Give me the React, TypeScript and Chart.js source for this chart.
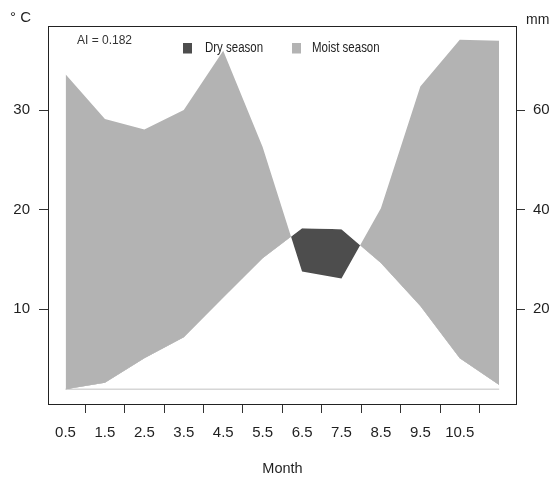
import { useEffect, useRef } from "react";
import { Chart, registerables } from "chart.js";

Chart.register(...registerables);

// Monthly climate record: x position of each month, mean temperature (°C), precipitation (mm)
const months = [0.5, 1.5, 2.5, 3.5, 4.5, 5.5, 6.5, 7.5, 8.5, 9.5, 10.5, 11.5];
const temperature = [1.98, 2.64, 5.09, 7.2, 11.19, 15.12, 18.13, 18.03, 14.65, 10.34, 5.09, 2.41];
const precipitation = [67.2, 58.2, 56.1, 60.0, 71.9, 52.6, 27.6, 26.2, 40.3, 64.7, 74.1, 73.9];

// Axis ticks
const monthTicks = [1, 2, 3, 4, 5, 6, 7, 8, 9, 10, 11];
const monthTickLabels = ["0.5", "1.5", "2.5", "3.5", "4.5", "5.5", "6.5", "7.5", "8.5", "9.5", "10.5"];
const temperatureTicks = [10, 20, 30];
const precipitationTicks = [20, 40, 60];

const aridityIndex = "0.182";

const MOIST = "#b3b3b3";
const DRY = "#4d4d4d";
const INK = "#1f1f1f";
const FONT = "'Liberation Sans', Arial, Helvetica, sans-serif";

// Plot box, legend and corner unit labels
const decorations = {
  id: "decorations",
  afterDraw(chart: any) {
    const { ctx, chartArea: a } = chart;
    ctx.save();
    ctx.strokeStyle = "#222";
    ctx.lineWidth = 1;
    ctx.strokeRect(a.left + 0.5, a.top + 0.5, a.right - a.left - 1, a.bottom - a.top);

    ctx.fillStyle = INK;
    ctx.textBaseline = "alphabetic";
    ctx.textAlign = "left";
    ctx.font = `15px ${FONT}`;
    ctx.fillText("° C", 10, 21.5);
    ctx.font = `14px ${FONT}`;
    ctx.fillText("mm", 526, 23.5);

    ctx.fillStyle = "#333";
    ctx.font = `12px ${FONT}`;
    ctx.fillText(`AI = ${aridityIndex}`, 77, 43.5);

    const entries = [
      { label: "Dry season", color: DRY, box: 183, text: 205 },
      { label: "Moist season", color: MOIST, box: 292, text: 312 },
    ];
    for (const e of entries) {
      ctx.fillStyle = e.color;
      ctx.fillRect(e.box, 43, 9, 10.5);
      ctx.save();
      ctx.translate(e.text, 52);
      ctx.scale(0.82, 1);
      ctx.fillStyle = INK;
      ctx.font = `14px ${FONT}`;
      ctx.fillText(e.label, 0, 0);
      ctx.restore();
    }
    ctx.restore();
  },
};

export default function App() {
  const canvasRef = useRef<HTMLCanvasElement>(null);

  useEffect(() => {
    const canvas = canvasRef.current;
    if (!canvas) return;
    const lowest = Math.min(...temperature);
    const tickFont = { family: FONT, size: 15 };

    const chart = new Chart(canvas, {
      type: "line",
      data: {
        datasets: [
          {
            label: "Temperature",
            data: months.map((m, i) => ({ x: m, y: temperature[i] })),
            xAxisID: "x",
            yAxisID: "y",
            borderWidth: 0,
            borderColor: "rgba(0,0,0,0)",
            pointRadius: 0,
            fill: false,
          },
          {
            label: "Precipitation",
            data: months.map((m, i) => ({ x: m, y: precipitation[i] })),
            xAxisID: "x",
            yAxisID: "y1",
            borderWidth: 0,
            borderColor: "rgba(0,0,0,0)",
            pointRadius: 0,
            fill: { target: 0, above: MOIST, below: DRY },
          },
          {
            label: "Baseline",
            data: months.map((m) => ({ x: m, y: lowest })),
            xAxisID: "x",
            yAxisID: "y",
            borderWidth: 1.5,
            borderColor: "#d6d6d6",
            pointRadius: 0,
            fill: false,
          },
        ],
      },
      options: {
        responsive: false,
        animation: false,
        layout: { padding: { top: 26, left: 0, right: 0, bottom: 0 } },
        plugins: {
          legend: { display: false },
          tooltip: { enabled: false },
          title: { display: false },
        },
        scales: {
          x: {
            type: "linear",
            position: "bottom",
            min: 0.056,
            max: 11.952,
            afterBuildTicks: (scale: any) => {
              scale.ticks = monthTicks.map((v) => ({ value: v }));
            },
            afterFit: (scale: any) => {
              scale.height = 75;
            },
            border: { display: false },
            grid: { drawOnChartArea: false, drawTicks: true, tickLength: 9, color: "#333", lineWidth: 1 },
            ticks: {
              autoSkip: false,
              maxRotation: 0,
              minRotation: 0,
              padding: 11,
              labelOffset: -19.7,
              color: INK,
              font: tickFont,
              callback: (_v: any, i: number) => monthTickLabels[i],
            },
            title: {
              display: true,
              text: "Month",
              color: INK,
              font: { family: FONT, size: 14.5 },
              padding: { top: 0, bottom: 1 },
            },
          },
          y: {
            type: "linear",
            position: "left",
            min: 0.5,
            max: 38.43,
            afterBuildTicks: (scale: any) => {
              scale.ticks = temperatureTicks.map((v) => ({ value: v }));
            },
            afterFit: (scale: any) => {
              scale.width = 48;
            },
            border: { display: false },
            grid: { drawOnChartArea: false, drawTicks: true, tickLength: 9, color: "#333", lineWidth: 1 },
            ticks: { padding: 9, color: INK, font: tickFont, callback: (v: any) => String(v) },
          },
          y1: {
            type: "linear",
            position: "right",
            min: 1.0,
            max: 76.86,
            afterBuildTicks: (scale: any) => {
              scale.ticks = precipitationTicks.map((v) => ({ value: v }));
            },
            afterFit: (scale: any) => {
              scale.width = 43;
            },
            border: { display: false },
            grid: { drawOnChartArea: false, drawTicks: true, tickLength: 8, color: "#333", lineWidth: 1 },
            ticks: { padding: 8, color: INK, font: tickFont, callback: (v: any) => String(v) },
          },
        },
      },
      plugins: [decorations],
    });

    return () => chart.destroy();
  }, []);

  return (
    <div style={{ position: "fixed", left: 0, top: 0, width: 560, height: 479, background: "#fff" }}>
      <canvas ref={canvasRef} width={560} height={479} style={{ display: "block" }} />
    </div>
  );
}
